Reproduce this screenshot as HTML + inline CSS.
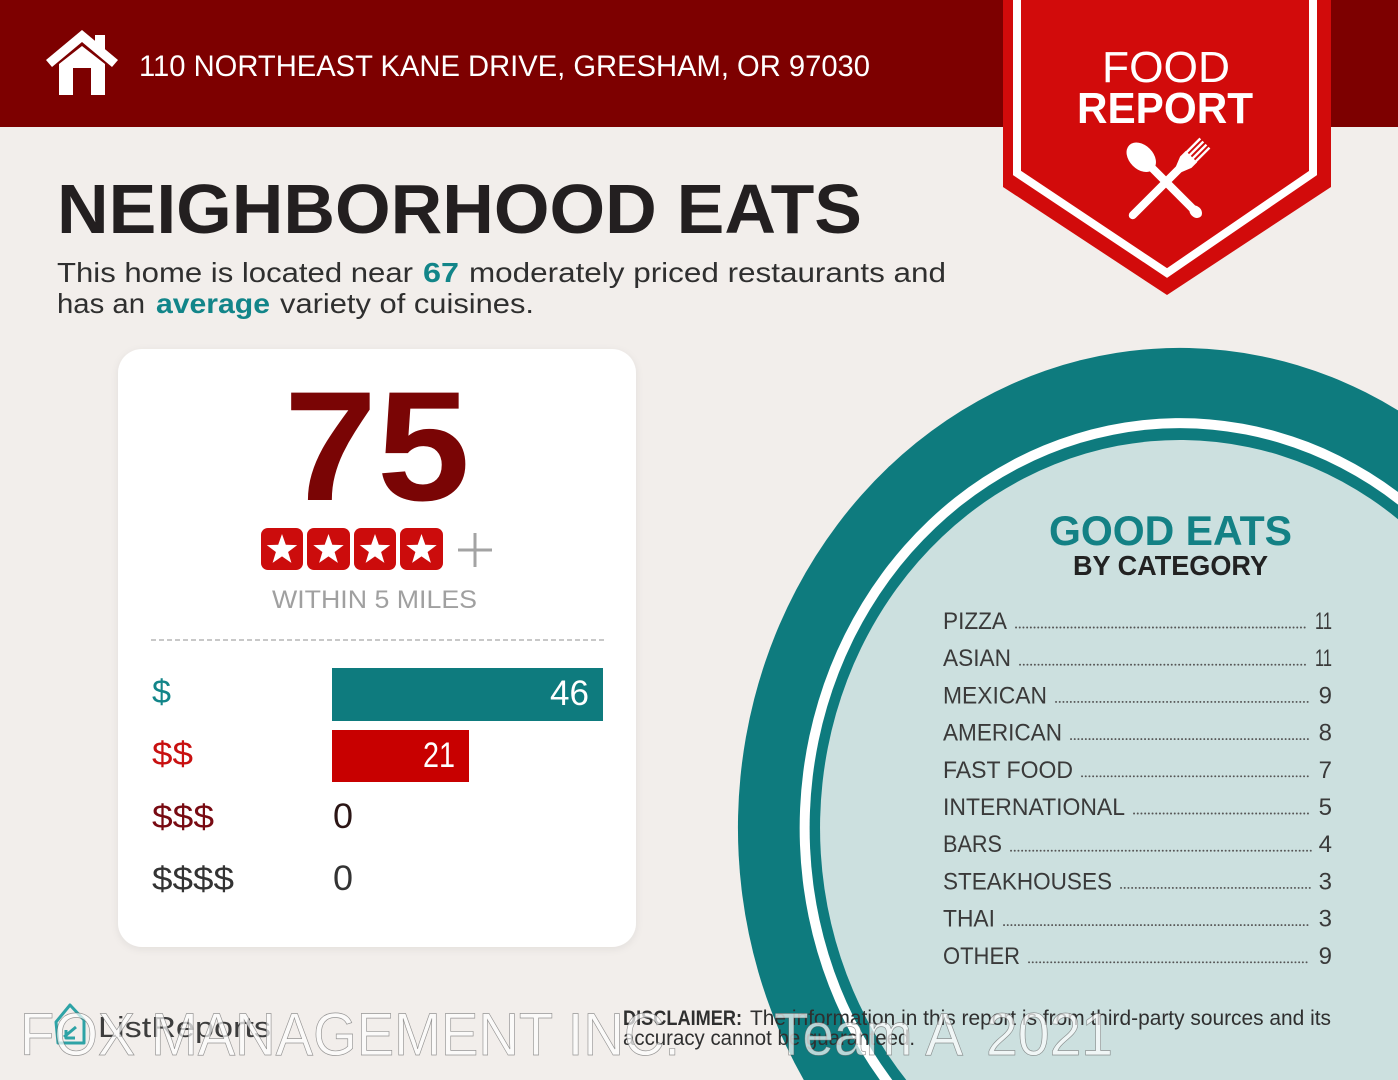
<!DOCTYPE html>
<html><head><meta charset="utf-8"><style>
html,body{margin:0;padding:0;background:#f2eeeb;width:1398px;height:1080px;overflow:hidden;}
svg{display:block;position:absolute;left:0;top:0;}
text{font-family:"Liberation Sans",Arial,sans-serif;}
</style></head><body>
<svg width="1398" height="1080" viewBox="0 0 1398 1080" xmlns="http://www.w3.org/2000/svg" overflow="hidden">
<defs>
<filter id="sh" x="-10%" y="-10%" width="120%" height="120%"><feDropShadow dx="0" dy="2" stdDeviation="4" flood-color="#000" flood-opacity="0.07"/></filter>
</defs>
<rect width="1398" height="1080" fill="#f2eeeb"/>
<!-- header -->
<rect x="0" y="0" width="1398" height="127" fill="#7d0000"/>
<!-- house icon -->
<g fill="#fff">
<polygon points="46,60 82,30 118,60 112,67 82,42 52,67"/>
<rect x="95" y="35" width="10" height="18"/>
<path d="M59,64 L82,46 L105,64 L105,95 L91,95 L91,68 L73,68 L73,95 L59,95 Z"/>
</g>
<text x="139" y="76" font-size="30" fill="#fff" textLength="731" lengthAdjust="spacingAndGlyphs">110 NORTHEAST KANE DRIVE, GRESHAM, OR 97030</text>
<!-- badge -->
<path d="M1003,0 L1331,0 L1331,187 L1167,295 L1003,187 Z" fill="#d20b0b"/>
<path d="M1017,0 L1017,173 L1167,273 L1313,173 L1313,0" fill="none" stroke="#fff" stroke-width="8"/>
<text x="1166" y="82" font-size="44" fill="#fff" text-anchor="middle" textLength="128" lengthAdjust="spacingAndGlyphs">FOOD</text>
<text x="1165" y="123" font-size="44" font-weight="bold" fill="#fff" text-anchor="middle" textLength="176" lengthAdjust="spacingAndGlyphs">REPORT</text>
<!-- fork -->
<g transform="translate(1166,182) rotate(-45)" fill="#fff" stroke="#fff">
<line x1="-47" y1="0" x2="22" y2="0" stroke-width="8" stroke-linecap="round"/>
<path d="M18,-4 L28,-8 L36,-8 L36,8 L28,8 L18,4 Z" stroke="none"/>
<line x1="34" y1="-6.5" x2="55" y2="-6.5" stroke-width="2.4"/>
<line x1="34" y1="-2.2" x2="55" y2="-2.2" stroke-width="2.4"/>
<line x1="34" y1="2.2" x2="55" y2="2.2" stroke-width="2.4"/>
<line x1="34" y1="6.5" x2="55" y2="6.5" stroke-width="2.4"/>
</g>
<!-- spoon -->
<g transform="translate(1166,182) rotate(45)" fill="#fff" stroke="#fff">
<ellipse cx="-35" cy="0" rx="17" ry="12" stroke="none"/>
<line x1="-20" y1="0" x2="44" y2="0" stroke-width="8" stroke-linecap="round"/>
<ellipse cx="42" cy="0" rx="7" ry="5.5" stroke="none"/>
</g>
<!-- title -->
<text x="57" y="233" font-size="70" font-weight="bold" fill="#231f20" textLength="805" lengthAdjust="spacingAndGlyphs">NEIGHBORHOOD EATS</text>
<g font-size="28" fill="#2f2f2f">
<text x="57" y="282" textLength="356" lengthAdjust="spacingAndGlyphs">This home is located near</text>
<text x="423" y="282" font-weight="bold" fill="#128589" textLength="36" lengthAdjust="spacingAndGlyphs">67</text>
<text x="469" y="282" textLength="477" lengthAdjust="spacingAndGlyphs">moderately priced restaurants and</text>
<text x="57" y="313" textLength="88" lengthAdjust="spacingAndGlyphs">has an</text>
<text x="156" y="313" font-weight="bold" fill="#128589" textLength="114" lengthAdjust="spacingAndGlyphs">average</text>
<text x="280" y="313" textLength="254" lengthAdjust="spacingAndGlyphs">variety of cuisines.</text>
</g>
<!-- big ellipse (clipped to frame) -->
<path d="M803.8,1080 A442,480 0 0 1 1398,410.4 L1398,1080 Z" fill="#0e7b7e"/>
<path d="M879.9,1080 A380.5,410 0 0 1 1398,492 L1398,1080 Z" fill="#ffffff"/>
<path d="M892.3,1080 A370.5,400 0 0 1 1398,504.6 L1398,1080 Z" fill="#0e7b7e"/>
<path d="M906.3,1080 A360,388 0 0 1 1398,519.2 L1398,1080 Z" fill="#cce0df"/>
<text x="1049" y="545" font-size="42" font-weight="bold" fill="#138185" textLength="243" lengthAdjust="spacingAndGlyphs">GOOD EATS</text>
<text x="1073" y="575" font-size="28" font-weight="bold" fill="#222" textLength="195" lengthAdjust="spacingAndGlyphs">BY CATEGORY</text>
<g font-size="24" fill="#3a3a3a">
<text x="943" y="629" textLength="64" lengthAdjust="spacingAndGlyphs">PIZZA</text>
<text x="943" y="666.2" textLength="68" lengthAdjust="spacingAndGlyphs">ASIAN</text>
<text x="943" y="703.4" textLength="104" lengthAdjust="spacingAndGlyphs">MEXICAN</text>
<text x="943" y="740.6" textLength="119" lengthAdjust="spacingAndGlyphs">AMERICAN</text>
<text x="943" y="777.8" textLength="130" lengthAdjust="spacingAndGlyphs">FAST FOOD</text>
<text x="943" y="815" textLength="182" lengthAdjust="spacingAndGlyphs">INTERNATIONAL</text>
<text x="943" y="852.2" textLength="59" lengthAdjust="spacingAndGlyphs">BARS</text>
<text x="943" y="889.4" textLength="169" lengthAdjust="spacingAndGlyphs">STEAKHOUSES</text>
<text x="943" y="926.6" textLength="52" lengthAdjust="spacingAndGlyphs">THAI</text>
<text x="943" y="963.8" textLength="77" lengthAdjust="spacingAndGlyphs">OTHER</text>
</g>
<g font-size="24" fill="#3a3a3a" text-anchor="end">
<text x="1332" y="629" textLength="17" lengthAdjust="spacingAndGlyphs">11</text>
<text x="1332" y="666.2" textLength="17" lengthAdjust="spacingAndGlyphs">11</text>
<text x="1332" y="703.4">9</text>
<text x="1332" y="740.6">8</text>
<text x="1332" y="777.8">7</text>
<text x="1332" y="815">5</text>
<text x="1332" y="852.2">4</text>
<text x="1332" y="889.4">3</text>
<text x="1332" y="926.6">3</text>
<text x="1332" y="963.8">9</text>
</g>
<g stroke="#555" stroke-width="1.9" stroke-linecap="round" stroke-dasharray="0.1 3.6">
<line x1="1016" y1="627.5" x2="1306" y2="627.5"/>
<line x1="1020" y1="664.7" x2="1306" y2="664.7"/>
<line x1="1056" y1="701.9" x2="1308" y2="701.9"/>
<line x1="1071" y1="739.1" x2="1308" y2="739.1"/>
<line x1="1082" y1="776.3" x2="1311" y2="776.3"/>
<line x1="1134" y1="813.5" x2="1308" y2="813.5"/>
<line x1="1011" y1="850.7" x2="1311" y2="850.7"/>
<line x1="1121" y1="887.9" x2="1311" y2="887.9"/>
<line x1="1004" y1="925.1" x2="1311" y2="925.1"/>
<line x1="1029" y1="962.3" x2="1308" y2="962.3"/>
</g>
<!-- card -->
<rect x="118" y="349" width="518" height="598" rx="24" fill="#fff" filter="url(#sh)"/>
<text x="284" y="500" font-size="156" font-weight="bold" fill="#7a0505" textLength="186" lengthAdjust="spacingAndGlyphs">75</text>
<g>
<rect x="261" y="528" width="42" height="42" rx="7" fill="#cc0c0c"/>
<rect x="307" y="528" width="43" height="42" rx="7" fill="#cc0c0c"/>
<rect x="354" y="528" width="42" height="42" rx="7" fill="#cc0c0c"/>
<rect x="400" y="528" width="43" height="42" rx="7" fill="#cc0c0c"/>
<g fill="#fff">
<path transform="translate(282,550)" d="M0,-16 L3.8,-5.2 L15.2,-4.9 L6.1,2 L9.4,12.9 L0,6.4 L-9.4,12.9 L-6.1,2 L-15.2,-4.9 L-3.8,-5.2 Z"/>
<path transform="translate(328.5,550)" d="M0,-16 L3.8,-5.2 L15.2,-4.9 L6.1,2 L9.4,12.9 L0,6.4 L-9.4,12.9 L-6.1,2 L-15.2,-4.9 L-3.8,-5.2 Z"/>
<path transform="translate(375,550)" d="M0,-16 L3.8,-5.2 L15.2,-4.9 L6.1,2 L9.4,12.9 L0,6.4 L-9.4,12.9 L-6.1,2 L-15.2,-4.9 L-3.8,-5.2 Z"/>
<path transform="translate(421.5,550)" d="M0,-16 L3.8,-5.2 L15.2,-4.9 L6.1,2 L9.4,12.9 L0,6.4 L-9.4,12.9 L-6.1,2 L-15.2,-4.9 L-3.8,-5.2 Z"/>
</g>
<line x1="458" y1="550" x2="492" y2="550" stroke="#a3a3a3" stroke-width="3"/>
<line x1="475" y1="533" x2="475" y2="567" stroke="#a3a3a3" stroke-width="3"/>
</g>
<text x="272" y="608" font-size="25" fill="#a0a0a0" textLength="205" lengthAdjust="spacingAndGlyphs">WITHIN 5 MILES</text>
<line x1="151" y1="640" x2="604" y2="640" stroke="#b5b5b5" stroke-width="1.5" stroke-dasharray="5 3"/>
<rect x="332" y="668" width="271" height="53" fill="#0e7b7e"/>
<rect x="332" y="730" width="137" height="52" fill="#c80000"/>
<g font-size="35">
<text x="589" y="705" fill="#fff" text-anchor="end" textLength="39" lengthAdjust="spacingAndGlyphs">46</text>
<text x="455" y="767" fill="#fff" text-anchor="end" textLength="32" lengthAdjust="spacingAndGlyphs">21</text>
<text x="333" y="828" fill="#2b1515" textLength="20" lengthAdjust="spacingAndGlyphs">0</text>
<text x="333" y="890" fill="#333" textLength="20" lengthAdjust="spacingAndGlyphs">0</text>
</g>
<g font-size="33">
<text x="152" y="703" fill="#128589" textLength="19" lengthAdjust="spacingAndGlyphs">$</text>
<text x="152" y="765" fill="#c81010" textLength="41" lengthAdjust="spacingAndGlyphs">$$</text>
<text x="152" y="828" fill="#780a12" textLength="62" lengthAdjust="spacingAndGlyphs">$$$</text>
<text x="152" y="890" fill="#333" textLength="82" lengthAdjust="spacingAndGlyphs">$$$$</text>
</g>
<!-- footer logo -->
<g fill="none" stroke="#2ea3a6" stroke-width="3" stroke-linejoin="round">
<path d="M56,1022 L70,1005 L84,1020 L84,1043 L58,1043 Z"/>
<path d="M64,1037 L76,1027 M66,1030 L66,1038 L75,1038"/>
</g>
<text x="98" y="1037" font-size="29" fill="#3d3d3d" textLength="173" lengthAdjust="spacingAndGlyphs">ListReports</text>
<!-- disclaimer -->
<g font-size="21" fill="#2f2f2f">
<text x="623" y="1025" font-weight="bold" textLength="119" lengthAdjust="spacingAndGlyphs">DISCLAIMER:</text>
<text x="750" y="1025" textLength="581" lengthAdjust="spacingAndGlyphs">The information in this report is from third-party sources and its</text>
<text x="623" y="1045" textLength="292" lengthAdjust="spacingAndGlyphs">accuracy cannot be guaranteed.</text>
</g>
<!-- watermark -->
<g font-size="60" fill="#fff" fill-opacity="0.7" stroke="#555" stroke-opacity="0.6" stroke-width="0.7">
<text x="20" y="1055" textLength="660" lengthAdjust="spacingAndGlyphs">FOX MANAGEMENT INC.</text>
<text x="774" y="1055" textLength="189" lengthAdjust="spacingAndGlyphs">Team A</text>
<text x="986" y="1055" textLength="127" lengthAdjust="spacingAndGlyphs">2021</text>
</g>
</svg>
</body></html>
